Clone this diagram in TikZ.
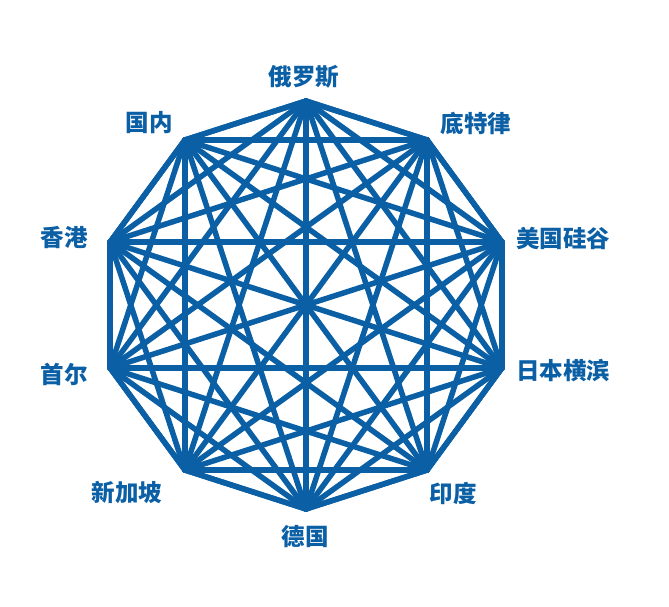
\documentclass[tikz,border=0pt]{standalone}
\usepackage{fontspec}
\usetikzlibrary{calc}
\newfontfamily\cjk{Noto Sans CJK SC}
\definecolor{netblue}{HTML}{0B5FA5}
\begin{document}
\begin{tikzpicture}[x=1pt,y=1pt,
  edge/.style={draw=netblue,line width=5.5pt,line cap=round},
  rim/.style={draw=netblue,line width=5.5pt,line join=miter},
  lab/.style={text=netblue,font=\cjk\bfseries\fontsize{23.5}{25}\selectfont,inner sep=0pt}]
\useasboundingbox (0,0) rectangle (669,-606);
\coordinate (c) at (306,-305);
\foreach \i in {0,...,9}{
  \coordinate (v\i) at ($(c)+({206*cos(90-36*\i)},{204*sin(90-36*\i)})$);
}
\draw[rim] (v0)--(v1)--(v2)--(v3)--(v4)--(v5)--(v6)--(v7)--(v8)--(v9)--cycle;
\foreach \i in {0,...,8}{
  \pgfmathtruncatemacro{\s}{\i+1}
  \foreach \j in {\s,...,9}{
    \draw[edge] (v\i)--(v\j);
  }
}
\node[lab] (l0) at (304,-77) {俄罗斯};
\node[lab] (l1) at (476,-123) {底特律};
\node[lab] (l2) at (563,-238) {美国硅谷};
\node[lab] (l3) at (563,-371) {日本横滨};
\node[lab] (l4) at (453,-493) {印度};
\node[lab] (l5) at (305,-537) {德国};
\node[lab] (l6) at (127,-492) {新加坡};
\node[lab] (l7) at (64,-374) {首尔};
\node[lab] (l8) at (64,-238) {香港};
\node[lab] (l9) at (149,-123) {国内};
\end{tikzpicture}
\end{document}
